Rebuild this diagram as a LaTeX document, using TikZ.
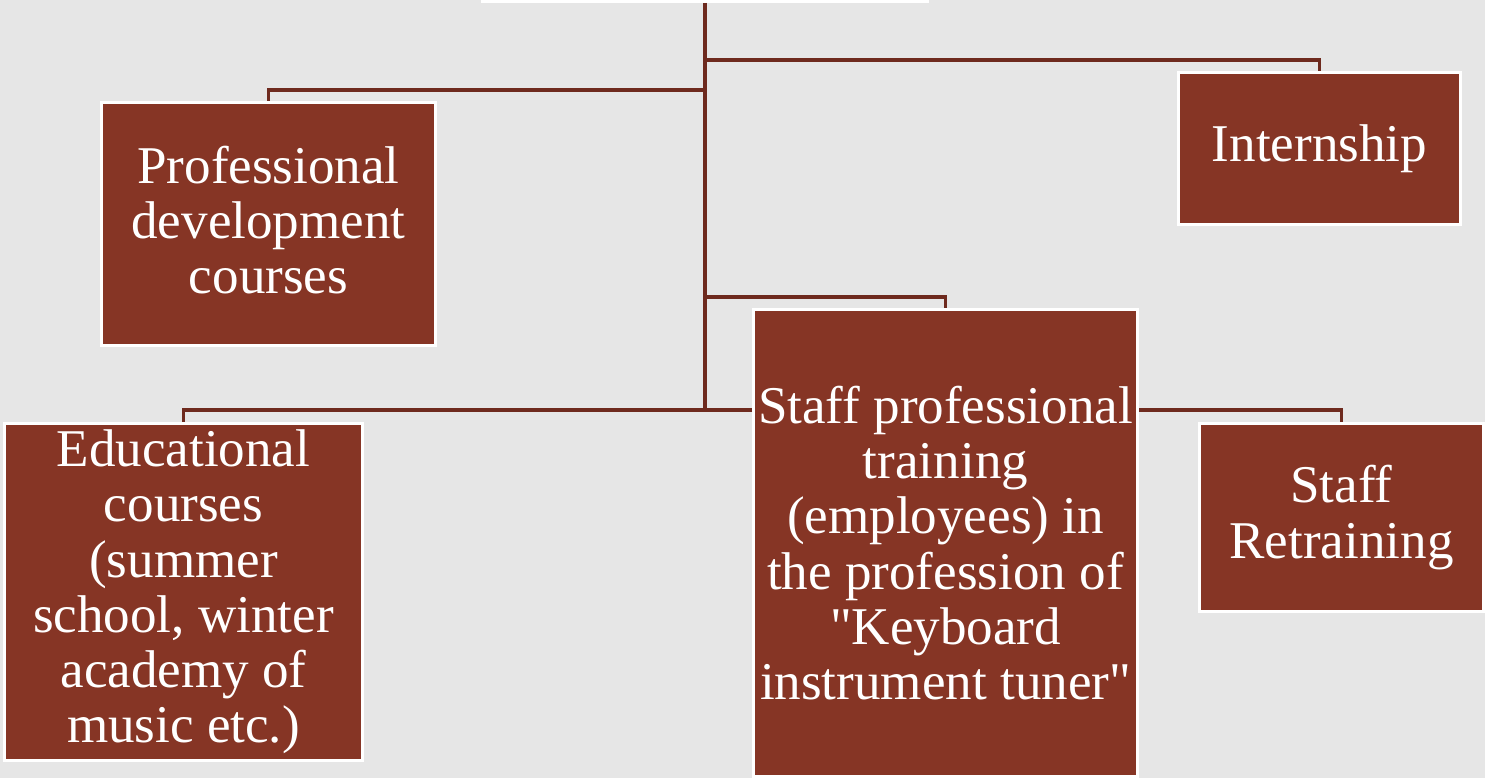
\documentclass[tikz,border=0pt]{standalone}
\usepackage{fontspec}
\setmainfont{Liberation Serif}
\newfontfamily\kastenfont{Liberation Serif}
\usepackage{tikz}
\usetikzlibrary{arrows}

\begin{document}
\begin{tikzpicture}[
    kasten/.style={
      rectangle,
      fill=braun,
      draw=white,
      line width=.06cm,
      inner sep=0pt,
      align=center,
      text=white,
      font=\kastenfont\fontsize{30.2}{31.4}\selectfont},
    linie/.style={
      draw=dbraun,
      line width=.075cm}
    ]
  \definecolor{braun}{RGB}{134, 53, 37}
  \definecolor{dbraun}{RGB}{110, 42, 30}
  \definecolor{hgrau}{RGB}{230, 230, 230}

  \clip (0,0) rectangle (29.7,15.56);
  \fill[hgrau] (0,0) rectangle (29.7,15.56);

  \node at (14.10,16.50) (kasten0) [kasten, fill=white, minimum width=8.90cm, minimum height=1.94cm] {};

  \node at (5.37,11.08) (kastenKurse) [kasten, minimum width=6.68cm, minimum height=4.86cm] {Professional\\development\\courses\rule[-5pt]{0pt}{0pt}};
  \node at (26.39,12.59) (kastenPraktikum) [kasten, minimum width=5.64cm, minimum height=3.04cm] {Internship};
  \node at (3.67,3.72) (kastenSchule) [kasten, minimum width=7.16cm, minimum height=6.74cm] {Educational\\courses\\(summer\\school, winter\\academy of\\music etc.)};
  \node at (18.91,4.70) (kastenAusbildung) [kasten, minimum width=7.68cm, minimum height=9.34cm] {Staff professional\\training\\(employees) in\\the profession of\\"Keyboard\\instrument tuner"};
  \node at (26.83,5.21) (kastenUmschulung) [kasten, minimum width=5.68cm, minimum height=3.76cm] {Staff\\Retraining};

  \coordinate (ast1) at (14.10,14.36);
  \coordinate (ast2) at (14.10,13.76);
  \coordinate (ast3) at (14.10,9.62);
  \coordinate (ast4) at (14.10,7.36);

  \path [linie] (kasten0) edge [] (ast4);
  \draw [linie] (ast1) -| (kastenPraktikum);
  \draw [linie] (ast2) -| (kastenKurse);
  \draw [linie] (ast3) -| (kastenAusbildung);
  \draw [linie] (kastenAusbildung.west |- ast4) -| (kastenSchule);
  \draw [linie] (kastenAusbildung.east |- ast4) -| (kastenUmschulung);

\end{tikzpicture}
\end{document}
